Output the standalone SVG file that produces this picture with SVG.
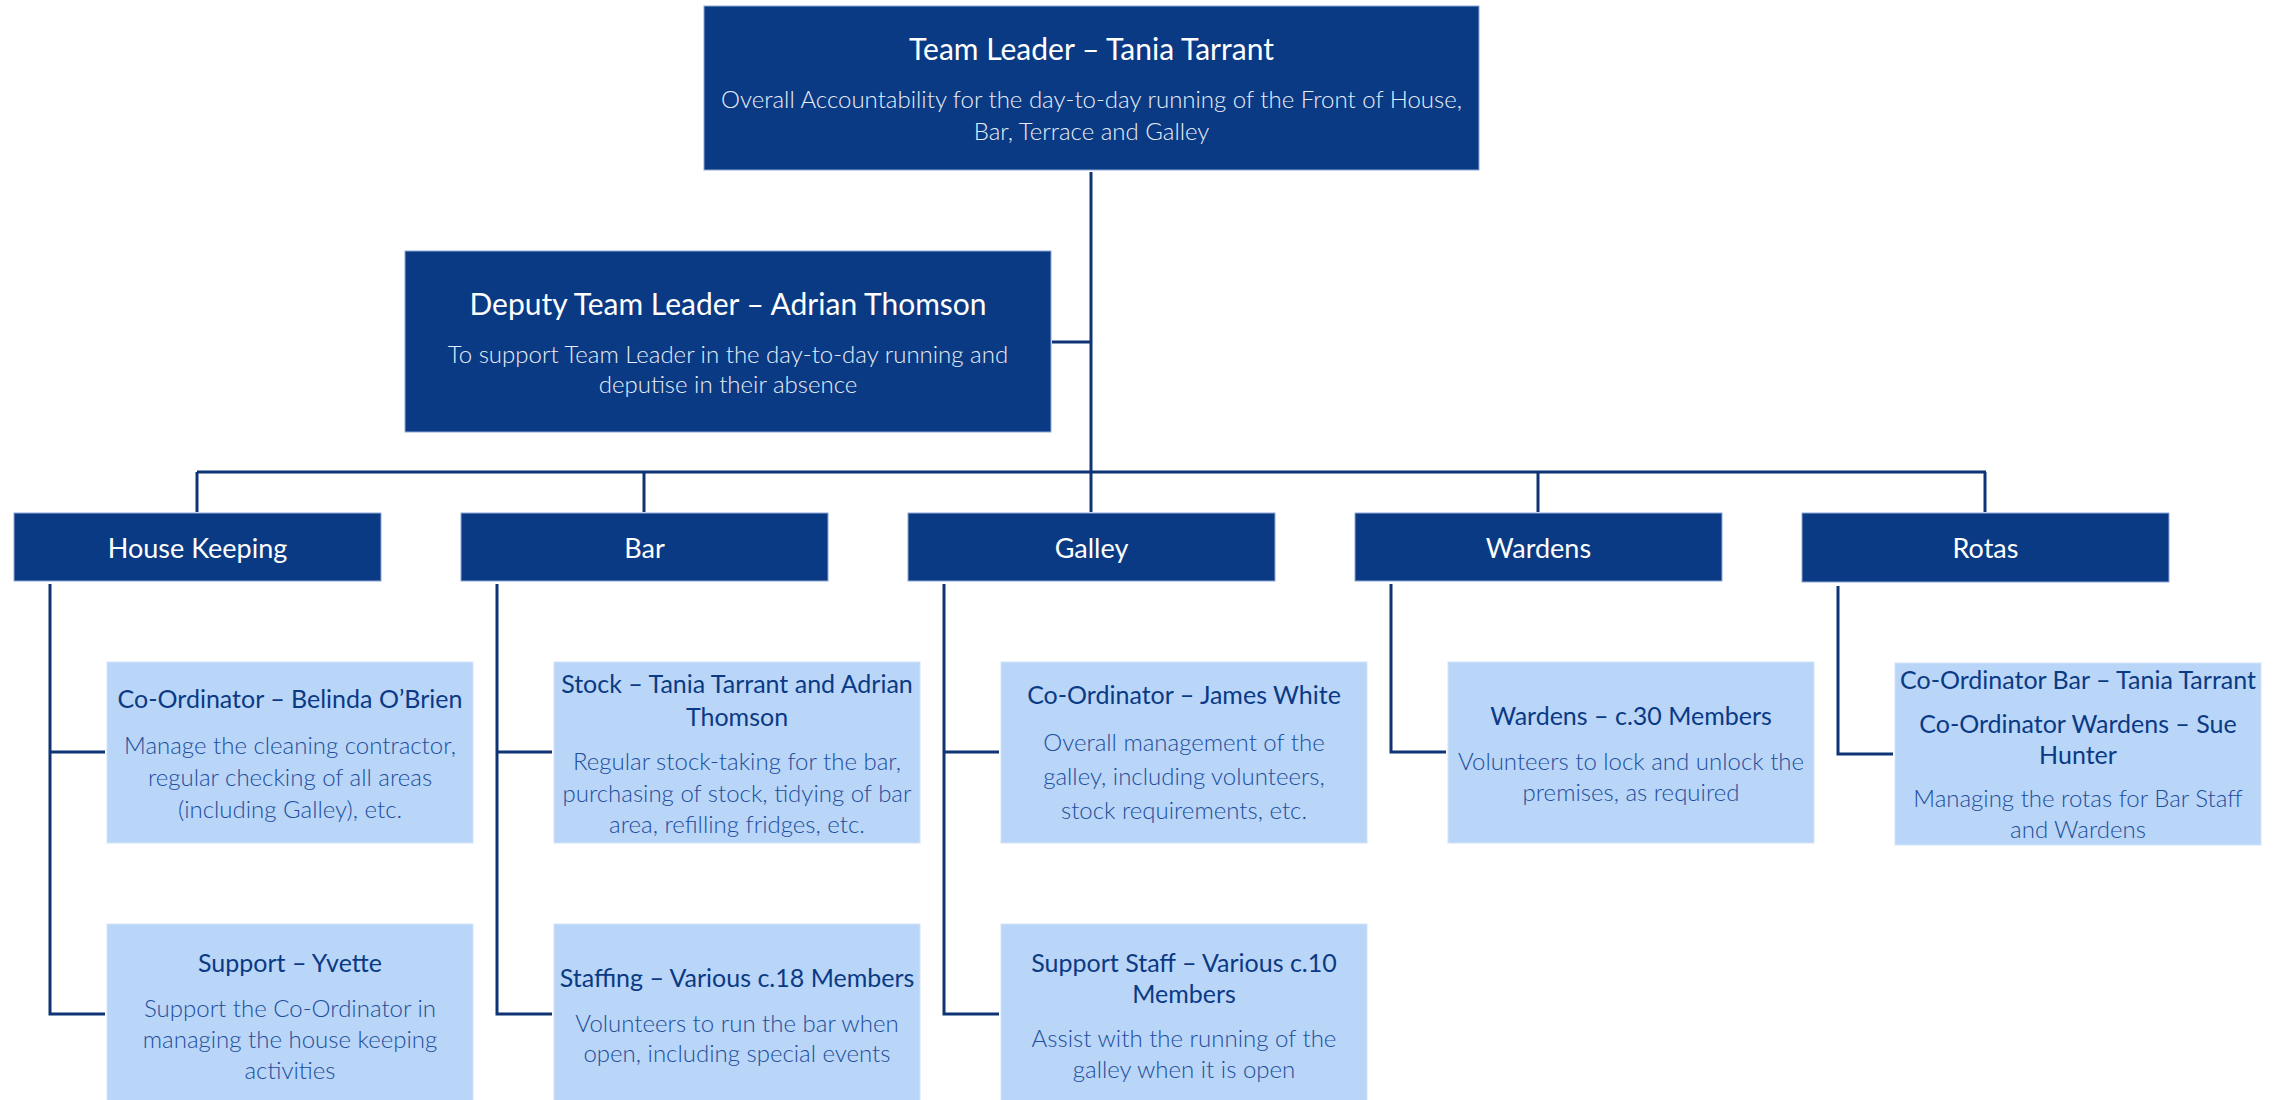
<svg xmlns="http://www.w3.org/2000/svg" width="2285" height="1100" viewBox="0 0 2285 1100">
  <style>
    .dark { fill: #0B3A84; stroke: #8EA9D8; stroke-width: 1; }
    .light { fill: #B9D5F8; stroke: #D3E4FB; stroke-width: 1; }
    .wire { fill: none; stroke: #0F3475; stroke-width: 3; }
    text { font-family: Lato, "Open Sans", "Liberation Sans", sans-serif; text-anchor: middle; dominant-baseline: central; }
    .t-head { fill: #FFFFFF; font-size: 30px; }
    .t-headsub { fill: #E8EEF9; font-size: 24px; font-weight: 300; }
    .t-cat { fill: #FFFFFF; font-size: 27px; }
    .t-role { fill: #0B3A84; font-size: 25px; }
    .t-desc { fill: #214E9A; font-size: 24px; font-weight: 300; }
  </style>

  <!-- connectors -->
  <g id="connectors" class="wire">
    <line x1="1091" y1="172" x2="1091" y2="472"/>
    <line x1="1052" y1="342" x2="1091" y2="342"/>
    <line x1="197" y1="472" x2="1986" y2="472"/>
    <line x1="197" y1="472" x2="197" y2="512"/>
    <line x1="644" y1="472" x2="644" y2="512"/>
    <line x1="1091" y1="472" x2="1091" y2="512"/>
    <line x1="1538" y1="472" x2="1538" y2="512"/>
    <line x1="1985" y1="472" x2="1985" y2="512"/>
    <polyline points="50,584 50,1014 105,1014"/>
    <line x1="50" y1="752" x2="105" y2="752"/>
    <polyline points="497,584 497,1014 552,1014"/>
    <line x1="497" y1="752" x2="552" y2="752"/>
    <polyline points="944,584 944,1014 999,1014"/>
    <line x1="944" y1="752" x2="999" y2="752"/>
    <polyline points="1391,584 1391,752 1446,752"/>
    <polyline points="1838,586 1838,754 1893,754"/>
  </g>

  <!-- leadership -->
  <g id="team-leader">
    <rect class="dark" x="704" y="6" width="775" height="164"/>
    <text class="t-head" x="1091.5" y="48">Team Leader – Tania Tarrant</text>
    <text class="t-headsub" x="1091.5" y="98">Overall Accountability for the day-to-day running of the Front of House,</text>
    <text class="t-headsub" x="1091.5" y="130">Bar, Terrace and Galley</text>
  </g>

  <g id="deputy-team-leader">
    <rect class="dark" x="405" y="251" width="646" height="181"/>
    <text class="t-head" x="728" y="303">Deputy Team Leader – Adrian Thomson</text>
    <text class="t-headsub" x="728" y="353">To support Team Leader in the day-to-day running and</text>
    <text class="t-headsub" x="728" y="383">deputise in their absence</text>
  </g>

  <!-- areas -->
  <g id="house-keeping">
    <rect class="dark" x="14" y="513" width="367" height="68"/>
    <text class="t-cat" x="197.5" y="547">House Keeping</text>
  </g>
  <g id="bar">
    <rect class="dark" x="461" y="513" width="367" height="68"/>
    <text class="t-cat" x="644.5" y="547">Bar</text>
  </g>
  <g id="galley">
    <rect class="dark" x="908" y="513" width="367" height="68"/>
    <text class="t-cat" x="1091.5" y="547">Galley</text>
  </g>
  <g id="wardens">
    <rect class="dark" x="1355" y="513" width="367" height="68"/>
    <text class="t-cat" x="1538.5" y="547">Wardens</text>
  </g>
  <g id="rotas">
    <rect class="dark" x="1802" y="513" width="367" height="69"/>
    <text class="t-cat" x="1985.5" y="547">Rotas</text>
  </g>

  <!-- roles -->
  <g id="hk-coordinator">
    <rect class="light" x="107" y="662" width="366" height="181"/>
    <text class="t-role" x="290" y="698">Co-Ordinator – Belinda O’Brien</text>
    <text class="t-desc" x="290" y="744">Manage the cleaning contractor,</text>
    <text class="t-desc" x="290" y="776">regular checking of all areas</text>
    <text class="t-desc" x="290" y="808">(including Galley), etc.</text>
  </g>
  <g id="hk-support">
    <rect class="light" x="107" y="924" width="366" height="190"/>
    <text class="t-role" x="290" y="962">Support – Yvette</text>
    <text class="t-desc" x="290" y="1007">Support the Co-Ordinator in</text>
    <text class="t-desc" x="290" y="1038">managing the house keeping</text>
    <text class="t-desc" x="290" y="1069">activities</text>
  </g>

  <g id="bar-stock">
    <rect class="light" x="554" y="662" width="366" height="181"/>
    <text class="t-role" x="737" y="683">Stock – Tania Tarrant and Adrian</text>
    <text class="t-role" x="737" y="716">Thomson</text>
    <text class="t-desc" x="737" y="760">Regular stock-taking for the bar,</text>
    <text class="t-desc" x="737" y="792">purchasing of stock, tidying of bar</text>
    <text class="t-desc" x="737" y="823">area, refilling fridges, etc.</text>
  </g>
  <g id="bar-staffing">
    <rect class="light" x="554" y="924" width="366" height="190"/>
    <text class="t-role" x="737" y="977">Staffing – Various c.18 Members</text>
    <text class="t-desc" x="737" y="1022">Volunteers to run the bar when</text>
    <text class="t-desc" x="737" y="1052">open, including special events</text>
  </g>

  <g id="galley-coordinator">
    <rect class="light" x="1001" y="662" width="366" height="181"/>
    <text class="t-role" x="1184" y="694">Co-Ordinator – James White</text>
    <text class="t-desc" x="1184" y="741">Overall management of the</text>
    <text class="t-desc" x="1184" y="775">galley, including volunteers,</text>
    <text class="t-desc" x="1184" y="809">stock requirements, etc.</text>
  </g>
  <g id="galley-support">
    <rect class="light" x="1001" y="924" width="366" height="190"/>
    <text class="t-role" x="1184" y="962">Support Staff – Various c.10</text>
    <text class="t-role" x="1184" y="993">Members</text>
    <text class="t-desc" x="1184" y="1037">Assist with the running of the</text>
    <text class="t-desc" x="1184" y="1068">galley when it is open</text>
  </g>

  <g id="wardens-members">
    <rect class="light" x="1448" y="662" width="366" height="181"/>
    <text class="t-role" x="1631" y="715">Wardens – c.30 Members</text>
    <text class="t-desc" x="1631" y="760">Volunteers to lock and unlock the</text>
    <text class="t-desc" x="1631" y="791">premises, as required</text>
  </g>

  <g id="rota-coordinators">
    <rect class="light" x="1895" y="663" width="366" height="182"/>
    <text class="t-role" x="2078" y="679">Co-Ordinator Bar – Tania Tarrant</text>
    <text class="t-role" x="2078" y="723">Co-Ordinator Wardens – Sue</text>
    <text class="t-role" x="2078" y="754">Hunter</text>
    <text class="t-desc" x="2078" y="797">Managing the rotas for Bar Staff</text>
    <text class="t-desc" x="2078" y="828">and Wardens</text>
  </g>
</svg>
